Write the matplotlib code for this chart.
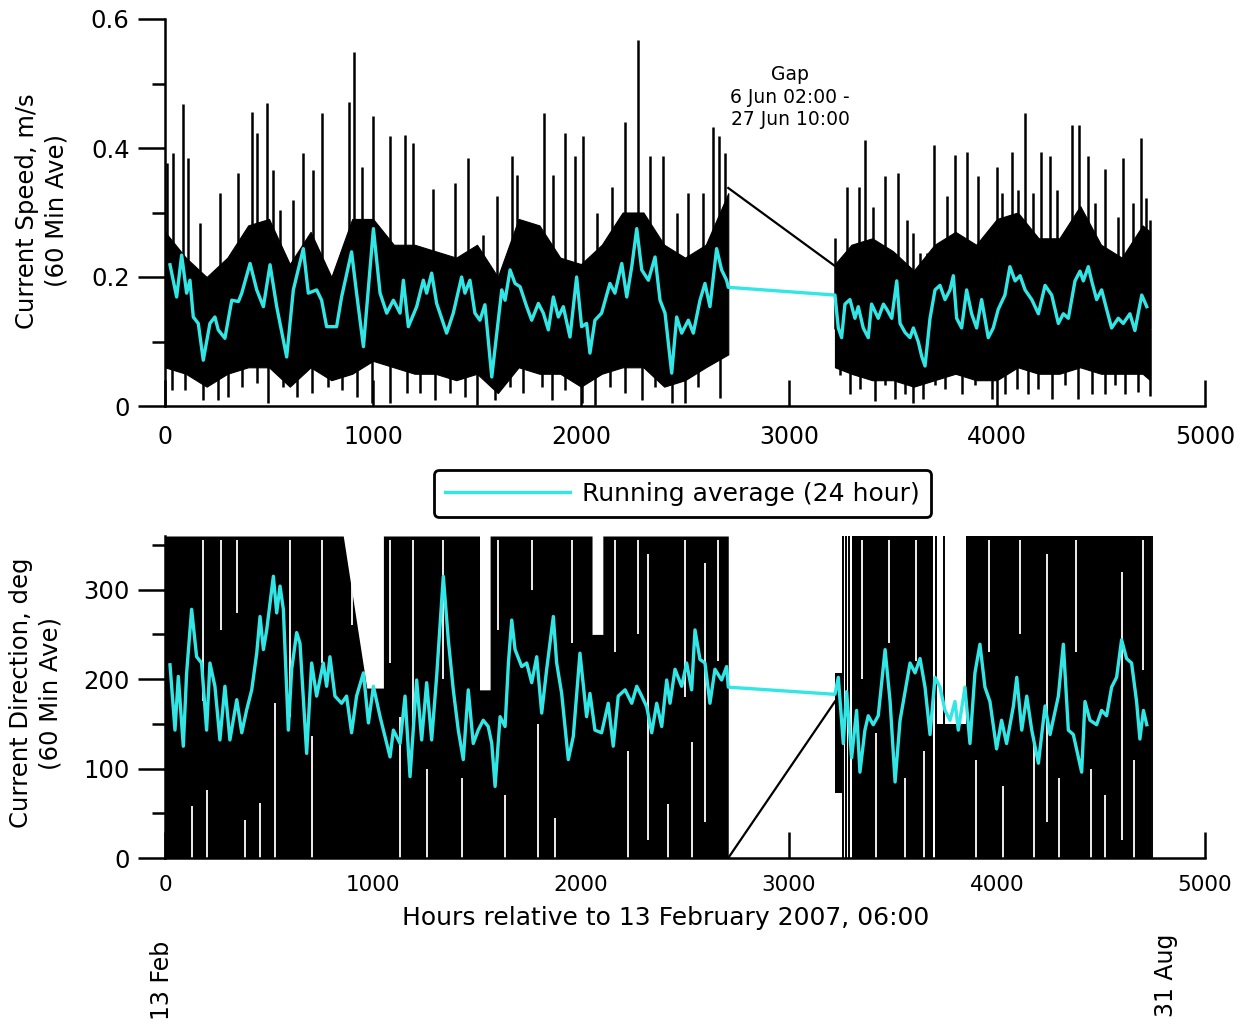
import numpy as np
import matplotlib.pyplot as plt
from matplotlib.lines import Line2D

# ---- data (hours relative to 13 Feb 2007 06:00) ----
gap_h = [2708, 3221]

# current speed, m/s : dense black band (core), spikes, 24 h running average
spd_core_h = [0, 100, 200, 300, 400, 500, 600, 700, 800, 900, 1000, 1100, 1200, 1300,
              1400, 1500, 1600, 1700, 1800, 1900, 2000, 2100, 2200, 2300, 2400, 2500,
              2600, 2708,
              3221, 3300, 3400, 3500, 3600, 3700, 3800, 3900, 4000, 4100, 4200, 4300,
              4400, 4500, 4600, 4700, 4736]
spd_core_hi = [0.27, 0.23, 0.20, 0.23, 0.28, 0.29, 0.22, 0.27, 0.20, 0.29, 0.29, 0.25,
               0.25, 0.24, 0.23, 0.25, 0.20, 0.29, 0.28, 0.23, 0.22, 0.25, 0.30, 0.30,
               0.25, 0.23, 0.25, 0.33,
               0.22, 0.25, 0.26, 0.24, 0.21, 0.25, 0.27, 0.25, 0.29, 0.30, 0.26, 0.26,
               0.31, 0.25, 0.23, 0.28, 0.27]
spd_core_lo = [0.06, 0.05, 0.03, 0.05, 0.06, 0.06, 0.03, 0.06, 0.04, 0.05, 0.07, 0.06,
               0.05, 0.05, 0.04, 0.05, 0.02, 0.06, 0.05, 0.05, 0.03, 0.05, 0.06, 0.06,
               0.03, 0.04, 0.06, 0.08,
               0.06, 0.05, 0.04, 0.04, 0.03, 0.04, 0.05, 0.04, 0.04, 0.06, 0.05, 0.05,
               0.06, 0.05, 0.05, 0.05, 0.04]

spd_peak_h = [8, 40, 85, 112, 168, 264, 349, 417, 441, 489, 521, 553, 617, 665, 713, 753,
              885, 909, 946, 1002, 1082, 1154, 1194, 1290, 1394, 1458, 1530, 1595, 1667,
              1691, 1824, 1867, 1923, 1971, 2011, 2075, 2147, 2212, 2276, 2332, 2396,
              2460, 2516, 2588, 2633, 2665, 2692,
              3221, 3277, 3337, 3365, 3405, 3462, 3522, 3566, 3598, 3630, 3662, 3699,
              3758, 3798, 3854, 3910, 3998, 4022, 4071, 4103, 4135, 4175, 4212, 4255,
              4287, 4359, 4396, 4439, 4471, 4519, 4583, 4607, 4655, 4692, 4716, 4736]
spd_peak = [0.376, 0.392, 0.468, 0.384, 0.283, 0.330, 0.361, 0.456, 0.423, 0.469, 0.366,
            0.304, 0.319, 0.392, 0.366, 0.454, 0.472, 0.549, 0.371, 0.449, 0.418, 0.420,
            0.407, 0.337, 0.345, 0.384, 0.265, 0.325, 0.387, 0.358, 0.454, 0.358, 0.423,
            0.387, 0.418, 0.299, 0.340, 0.441, 0.567, 0.387, 0.387, 0.299, 0.330, 0.330,
            0.433, 0.418, 0.392,
            0.260, 0.340, 0.340, 0.412, 0.309, 0.356, 0.361, 0.288, 0.268, 0.237, 0.237,
            0.405, 0.325, 0.389, 0.394, 0.356, 0.371, 0.330, 0.394, 0.335, 0.454, 0.330,
            0.394, 0.387, 0.335, 0.436, 0.436, 0.387, 0.314, 0.368, 0.293, 0.384, 0.314,
            0.415, 0.322, 0.288]

spd_trough_h = [32, 96, 184, 256, 305, 369, 441, 497, 569, 633, 705, 785, 849, 921, 994,
                1082, 1162, 1226, 1298, 1370, 1442, 1498, 1587, 1659, 1723, 1811, 1859,
                1923, 2003, 2067, 2139, 2212, 2292, 2356, 2436, 2500, 2564, 2668,
                3245, 3293, 3341, 3413, 3462, 3510, 3558, 3598, 3646, 3702, 3750, 3830,
                3894, 3974, 4038, 4095, 4151, 4199, 4263, 4327, 4391, 4455, 4519, 4567,
                4615, 4679, 4736]
spd_trough = [0.025, 0.025, 0.009, 0.009, 0.014, 0.030, 0.035, 0.005, 0.030, 0.014, 0.020,
              0.030, 0.025, 0.014, 0.005, 0.005, 0.020, 0.020, 0.009, 0.020, 0.014, 0.002,
              0.009, 0.030, 0.020, 0.030, 0.009, 0.025, 0.004, 0.002, 0.030, 0.020, 0.009,
              0.030, 0.004, 0.004, 0.030, 0.012,
              0.048, 0.018, 0.026, 0.007, 0.033, 0.011, 0.018, 0.004, 0.011, 0.033, 0.026,
              0.018, 0.033, 0.011, 0.018, 0.026, 0.018, 0.026, 0.011, 0.033, 0.011, 0.018,
              0.018, 0.033, 0.018, 0.022, 0.015]
spd_gap = [0.338, 0.217]

spd_avg_h = [24, 56, 80, 104, 120, 136, 160, 184, 216, 240, 256, 288, 321, 353, 369, 409,
             441, 473, 505, 537, 585, 617, 665, 689, 729, 753, 777, 825, 849, 897, 921,
             954, 1002, 1034, 1066, 1098, 1130, 1146, 1170, 1210, 1242, 1258, 1282, 1306,
             1354, 1386, 1426, 1442, 1466, 1490, 1514, 1538, 1571, 1595, 1619, 1635, 1659,
             1683, 1707, 1739, 1763, 1795, 1819, 1843, 1867, 1891, 1915, 1947, 1979, 2003,
             2027, 2043, 2067, 2099, 2139, 2163, 2196, 2220, 2244, 2268, 2292, 2324, 2356,
             2380, 2404, 2436, 2460, 2484, 2516, 2540, 2572, 2596, 2620, 2652, 2676, 2700,
             2708,
             3221, 3237, 3253, 3269, 3293, 3317, 3333, 3357, 3381, 3397, 3429, 3454, 3470,
             3494, 3518, 3534, 3558, 3582, 3598, 3622, 3638, 3654, 3678, 3702, 3726, 3750,
             3774, 3790, 3806, 3830, 3854, 3878, 3902, 3926, 3958, 3982, 4006, 4038, 4062,
             4087, 4111, 4135, 4167, 4199, 4231, 4263, 4295, 4319, 4343, 4375, 4399, 4415,
             4439, 4455, 4479, 4503, 4527, 4551, 4583, 4607, 4639, 4663, 4696, 4720]
spd_avg = [0.219, 0.169, 0.234, 0.175, 0.195, 0.138, 0.128, 0.071, 0.128, 0.138, 0.118,
           0.105, 0.164, 0.162, 0.175, 0.221, 0.180, 0.154, 0.219, 0.154, 0.076, 0.180,
           0.244, 0.175, 0.180, 0.164, 0.123, 0.123, 0.169, 0.239, 0.175, 0.092, 0.275,
           0.175, 0.144, 0.164, 0.144, 0.195, 0.123, 0.154, 0.195, 0.175, 0.206, 0.159,
           0.113, 0.144, 0.200, 0.175, 0.195, 0.144, 0.133, 0.157, 0.045, 0.113, 0.180,
           0.164, 0.211, 0.190, 0.185, 0.154, 0.133, 0.159, 0.144, 0.118, 0.169, 0.138,
           0.154, 0.107, 0.200, 0.123, 0.128, 0.082, 0.133, 0.144, 0.190, 0.175, 0.221,
           0.169, 0.216, 0.275, 0.211, 0.195, 0.231, 0.164, 0.144, 0.051, 0.138, 0.113,
           0.133, 0.113, 0.164, 0.190, 0.154, 0.244, 0.211, 0.195, 0.184,
           0.172, 0.121, 0.106, 0.158, 0.165, 0.136, 0.154, 0.121, 0.106, 0.158, 0.136,
           0.158, 0.150, 0.136, 0.194, 0.128, 0.114, 0.106, 0.121, 0.099, 0.077, 0.062,
           0.136, 0.180, 0.187, 0.165, 0.180, 0.202, 0.136, 0.121, 0.180, 0.143, 0.121,
           0.165, 0.106, 0.121, 0.150, 0.172, 0.216, 0.194, 0.202, 0.180, 0.165, 0.143,
           0.187, 0.172, 0.128, 0.143, 0.136, 0.194, 0.209, 0.194, 0.216, 0.194, 0.165,
           0.180, 0.150, 0.121, 0.136, 0.128, 0.143, 0.117, 0.172, 0.154]

# current direction, deg : extent of the dense black band, blank slivers inside it,
# isolated full-range lines, 24 h running average
dir_env_h = [0, 857, 970, 1034, 1050, 1050, 1512, 1512, 1563, 1563, 2053, 2053, 2105,
             2105, 2708,
             3221, 3255,
             3305, 3694,
             3700, 3850,
             3850, 4740]
dir_env_hi = [360, 360, 190, 190, 190, 360, 360, 188, 188, 360, 360, 250, 250,
              360, 360,
              207, 207,
              360, 360,
              150, 150,
              360, 360]
dir_env_lo = [0, 0, 0, 0, 0, 0, 0, 0, 0, 0, 0, 0, 0, 0, 0,
              73, 73,
              0, 0,
              0, 0,
              0, 0]
dir_env_part = [0] * 15 + [1] * 2 + [2] * 2 + [3] * 2 + [4] * 2

dir_sliver_h = [131, 184, 200, 269, 345, 385, 457, 529, 601, 705, 753, 897, 1082, 1130,
                1194, 1258, 1338, 1426, 1603, 1635, 1763, 1795, 1875, 1955, 2163, 2228,
                2276, 2324, 2420, 2500, 2532, 2596, 2660,
                3350, 3420, 3480, 3560, 3610, 3650, 3900, 3960, 4030, 4110, 4180, 4240,
                4300, 4380, 4450, 4520, 4600, 4660, 4700]
dir_sliver_lo = [0, 175, 0, 255, 274, 0, 0, 0, 158, 0, 218, 260, 218, 0,
                 143, 0, 200, 0, 255, 0, 300, 0, 0, 240, 230, 0,
                 250, 20, 0, 180, 0, 40, 220,
                 200, 0, 240, 0, 220, 0, 0, 230, 0, 250, 0, 40,
                 0, 230, 0, 0, 20, 0, 210]
dir_sliver_hi = [58, 355, 76, 355, 355, 43, 61, 173, 355, 136, 355, 355, 355, 158,
                 355, 100, 355, 90, 355, 70, 355, 150, 45, 355, 355, 120,
                 355, 340, 60, 355, 130, 330, 355,
                 355, 140, 355, 90, 355, 120, 110, 355, 80, 355, 130, 340,
                 90, 355, 100, 70, 320, 110, 355]

dir_line_h = [3261, 3275, 3290, 3705, 3745, 4743]

dir_gap = [0, 175]

dir_avg_h = [24, 48, 64, 88, 104, 128, 152, 176, 200, 216, 240, 264, 288, 312, 345, 369,
             393, 417, 441, 457, 473, 489, 521, 537, 553, 569, 593, 609, 633, 649, 681,
             705, 729, 761, 777, 793, 817, 849, 873, 897, 921, 954, 978, 1002, 1034, 1082,
             1098, 1130, 1154, 1178, 1210, 1234, 1258, 1282, 1306, 1338, 1362, 1386, 1410,
             1434, 1458, 1482, 1506, 1530, 1554, 1571, 1587, 1611, 1635, 1651, 1667, 1683,
             1715, 1739, 1763, 1787, 1811, 1835, 1867, 1883, 1907, 1939, 1963, 1995, 2027,
             2043, 2067, 2099, 2131, 2155, 2179, 2212, 2244, 2268, 2292, 2316, 2340, 2364,
             2388, 2412, 2428, 2452, 2484, 2508, 2532, 2548, 2572, 2596, 2620, 2644, 2676,
             2700, 2708,
             3221, 3237, 3261, 3277, 3301, 3325, 3341, 3365, 3381, 3405, 3429, 3462, 3486,
             3510, 3534, 3558, 3582, 3606, 3630, 3654, 3678, 3702, 3726, 3750, 3774, 3798,
             3814, 3846, 3870, 3894, 3918, 3942, 3966, 3998, 4022, 4046, 4079, 4095, 4119,
             4143, 4167, 4199, 4231, 4255, 4295, 4319, 4343, 4367, 4407, 4423, 4447, 4479,
             4503, 4527, 4551, 4575, 4599, 4623, 4647, 4671, 4687, 4704, 4720]
dir_avg = [216, 143, 203, 125, 207, 278, 225, 218, 143, 218, 192, 132, 192, 132, 177, 140,
           166, 188, 229, 270, 233, 255, 315, 274, 304, 278, 143, 211, 252, 240, 117, 218,
           181, 218, 192, 225, 181, 173, 181, 140, 181, 207, 151, 192, 158, 113, 143, 128,
           181, 91, 199, 132, 196, 132, 203, 315, 244, 188, 143, 110, 188, 128, 143, 154,
           147, 128, 80, 158, 147, 218, 266, 233, 214, 218, 196, 225, 162, 211, 270, 218,
           184, 110, 136, 229, 158, 184, 143, 140, 173, 125, 181, 188, 173, 192, 181, 169,
           140, 173, 147, 199, 173, 211, 192, 218, 188, 255, 222, 218, 173, 211, 199, 214,
           191,
           183, 202, 128, 186, 112, 165, 96, 143, 159, 149, 159, 233, 175, 85, 154, 186,
           218, 207, 223, 191, 138, 202, 191, 165, 154, 175, 143, 191, 128, 207, 239, 191,
           175, 122, 154, 128, 170, 202, 143, 181, 143, 106, 170, 138, 181, 239, 143, 138,
           96, 175, 154, 149, 165, 159, 191, 202, 244, 223, 218, 175, 133, 165, 149]

cyan = '#33e6e6'

plt.rcParams['font.family'] = ['DejaVu Sans']

fig = plt.figure(figsize=(12.47, 10.27), dpi=100)
W, H = 1247.0, 1027.0
ax1 = fig.add_axes([165 / W, 1 - 406 / H, 1040 / W, 387 / H])
ax2 = fig.add_axes([165 / W, 1 - 858 / H, 1040 / W, 322 / H])

# ---- top: speed ----
core_h = np.array(spd_core_h)
core_hi = np.array(spd_core_hi)
core_lo = np.array(spd_core_lo)
for m in (core_h <= gap_h[0], core_h >= gap_h[1]):
    ax1.fill_between(core_h[m], core_lo[m], core_hi[m], color='black', lw=0.8,
                     edgecolor='black')
ax1.vlines(spd_peak_h, 0.12, spd_peak, color='black', lw=1.8)
ax1.vlines(spd_trough_h, spd_trough, 0.12, color='black', lw=1.8)
ax1.plot(gap_h, spd_gap, color='black', lw=1.6)
ax1.plot(spd_avg_h, spd_avg, color=cyan, lw=2.4, zorder=3)

ax1.text(3005, 0.479, 'Gap\n6 Jun 02:00 -\n27 Jun 10:00', ha='center', va='center',
         fontsize=13.5, linespacing=1.25)

ax1.set_xlim(0, 5000)
ax1.set_ylim(0, 0.6)
ax1.set_yticks([0, 0.2, 0.4, 0.6])
ax1.set_yticklabels(['0', '0.2', '0.4', '0.6'])
ax1.set_yticks([0.1, 0.3, 0.5], minor=True)

# ---- bottom: direction ----
env_h = np.array(dir_env_h)
env_hi = np.array(dir_env_hi)
env_lo = np.array(dir_env_lo)
env_part = np.array(dir_env_part)
for p in np.unique(env_part):
    m = env_part == p
    ax2.fill_between(env_h[m], env_lo[m], env_hi[m], color='black', lw=0)
ax2.vlines(dir_sliver_h, dir_sliver_lo, dir_sliver_hi, color='white', lw=1.3, zorder=2)
ax2.vlines(dir_line_h, 0, 360, color='black', lw=1.4, zorder=2)
ax2.plot(gap_h, dir_gap, color='black', lw=1.6)
ax2.plot(dir_avg_h, dir_avg, color=cyan, lw=2.4, zorder=3)

ax2.set_xlim(0, 5000)
ax2.set_ylim(0, 360)
ax2.set_yticks([0, 100, 200, 300])
ax2.set_yticks([50, 150, 250, 350], minor=True)

for ax in (ax1, ax2):
    ax.spines['top'].set_visible(False)
    ax.spines['right'].set_visible(False)
    for sp in ('left', 'bottom'):
        ax.spines[sp].set_linewidth(1.8)
        ax.spines[sp].set_zorder(4)
    ax.set_xticks([0, 1000, 2000, 3000, 4000, 5000])
    ax.tick_params(axis='x', direction='in', length=18.5, width=1.8, pad=14, labelsize=17)
    ax.tick_params(axis='y', which='major', direction='out', length=19.5, width=1.8,
                   pad=6, labelsize=17.5)
    ax.tick_params(axis='y', which='minor', direction='out', length=9.5, width=1.8)

ax2.tick_params(axis='x', labelsize=15.5, pad=12)

fig.text(42 / W, 1 - 211 / H, 'Current Speed, m/s\n(60 Min Ave)', rotation=90,
         ha='center', va='center', fontsize=17.5, linespacing=1.3)
fig.text(36 / W, 1 - 693 / H, 'Current Direction, deg\n(60 Min Ave)', rotation=90,
         ha='center', va='center', fontsize=17.5, linespacing=1.3)
fig.text(666 / W, 1 - 918 / H, 'Hours relative to 13 February 2007, 06:00',
         ha='center', va='center', fontsize=18)
fig.text(162 / W, 1 - 980 / H, '13 Feb', rotation=90, ha='center', va='center',
         fontsize=17)
fig.text(1166 / W, 1 - 975 / H, '31 Aug', rotation=90, ha='center', va='center',
         fontsize=17)

leg = fig.legend(handles=[Line2D([0], [0], color=cyan, lw=2.4)],
                 labels=['Running average (24 hour)'], loc='center',
                 bbox_to_anchor=(682.5 / W, 1 - 493.5 / H), frameon=True, fancybox=True,
                 edgecolor='black', framealpha=1, fontsize=18, handlelength=5,
                 handletextpad=0.5, borderpad=0.45)
leg.get_frame().set_linewidth(2)

fig.savefig('out.png', dpi=100)
